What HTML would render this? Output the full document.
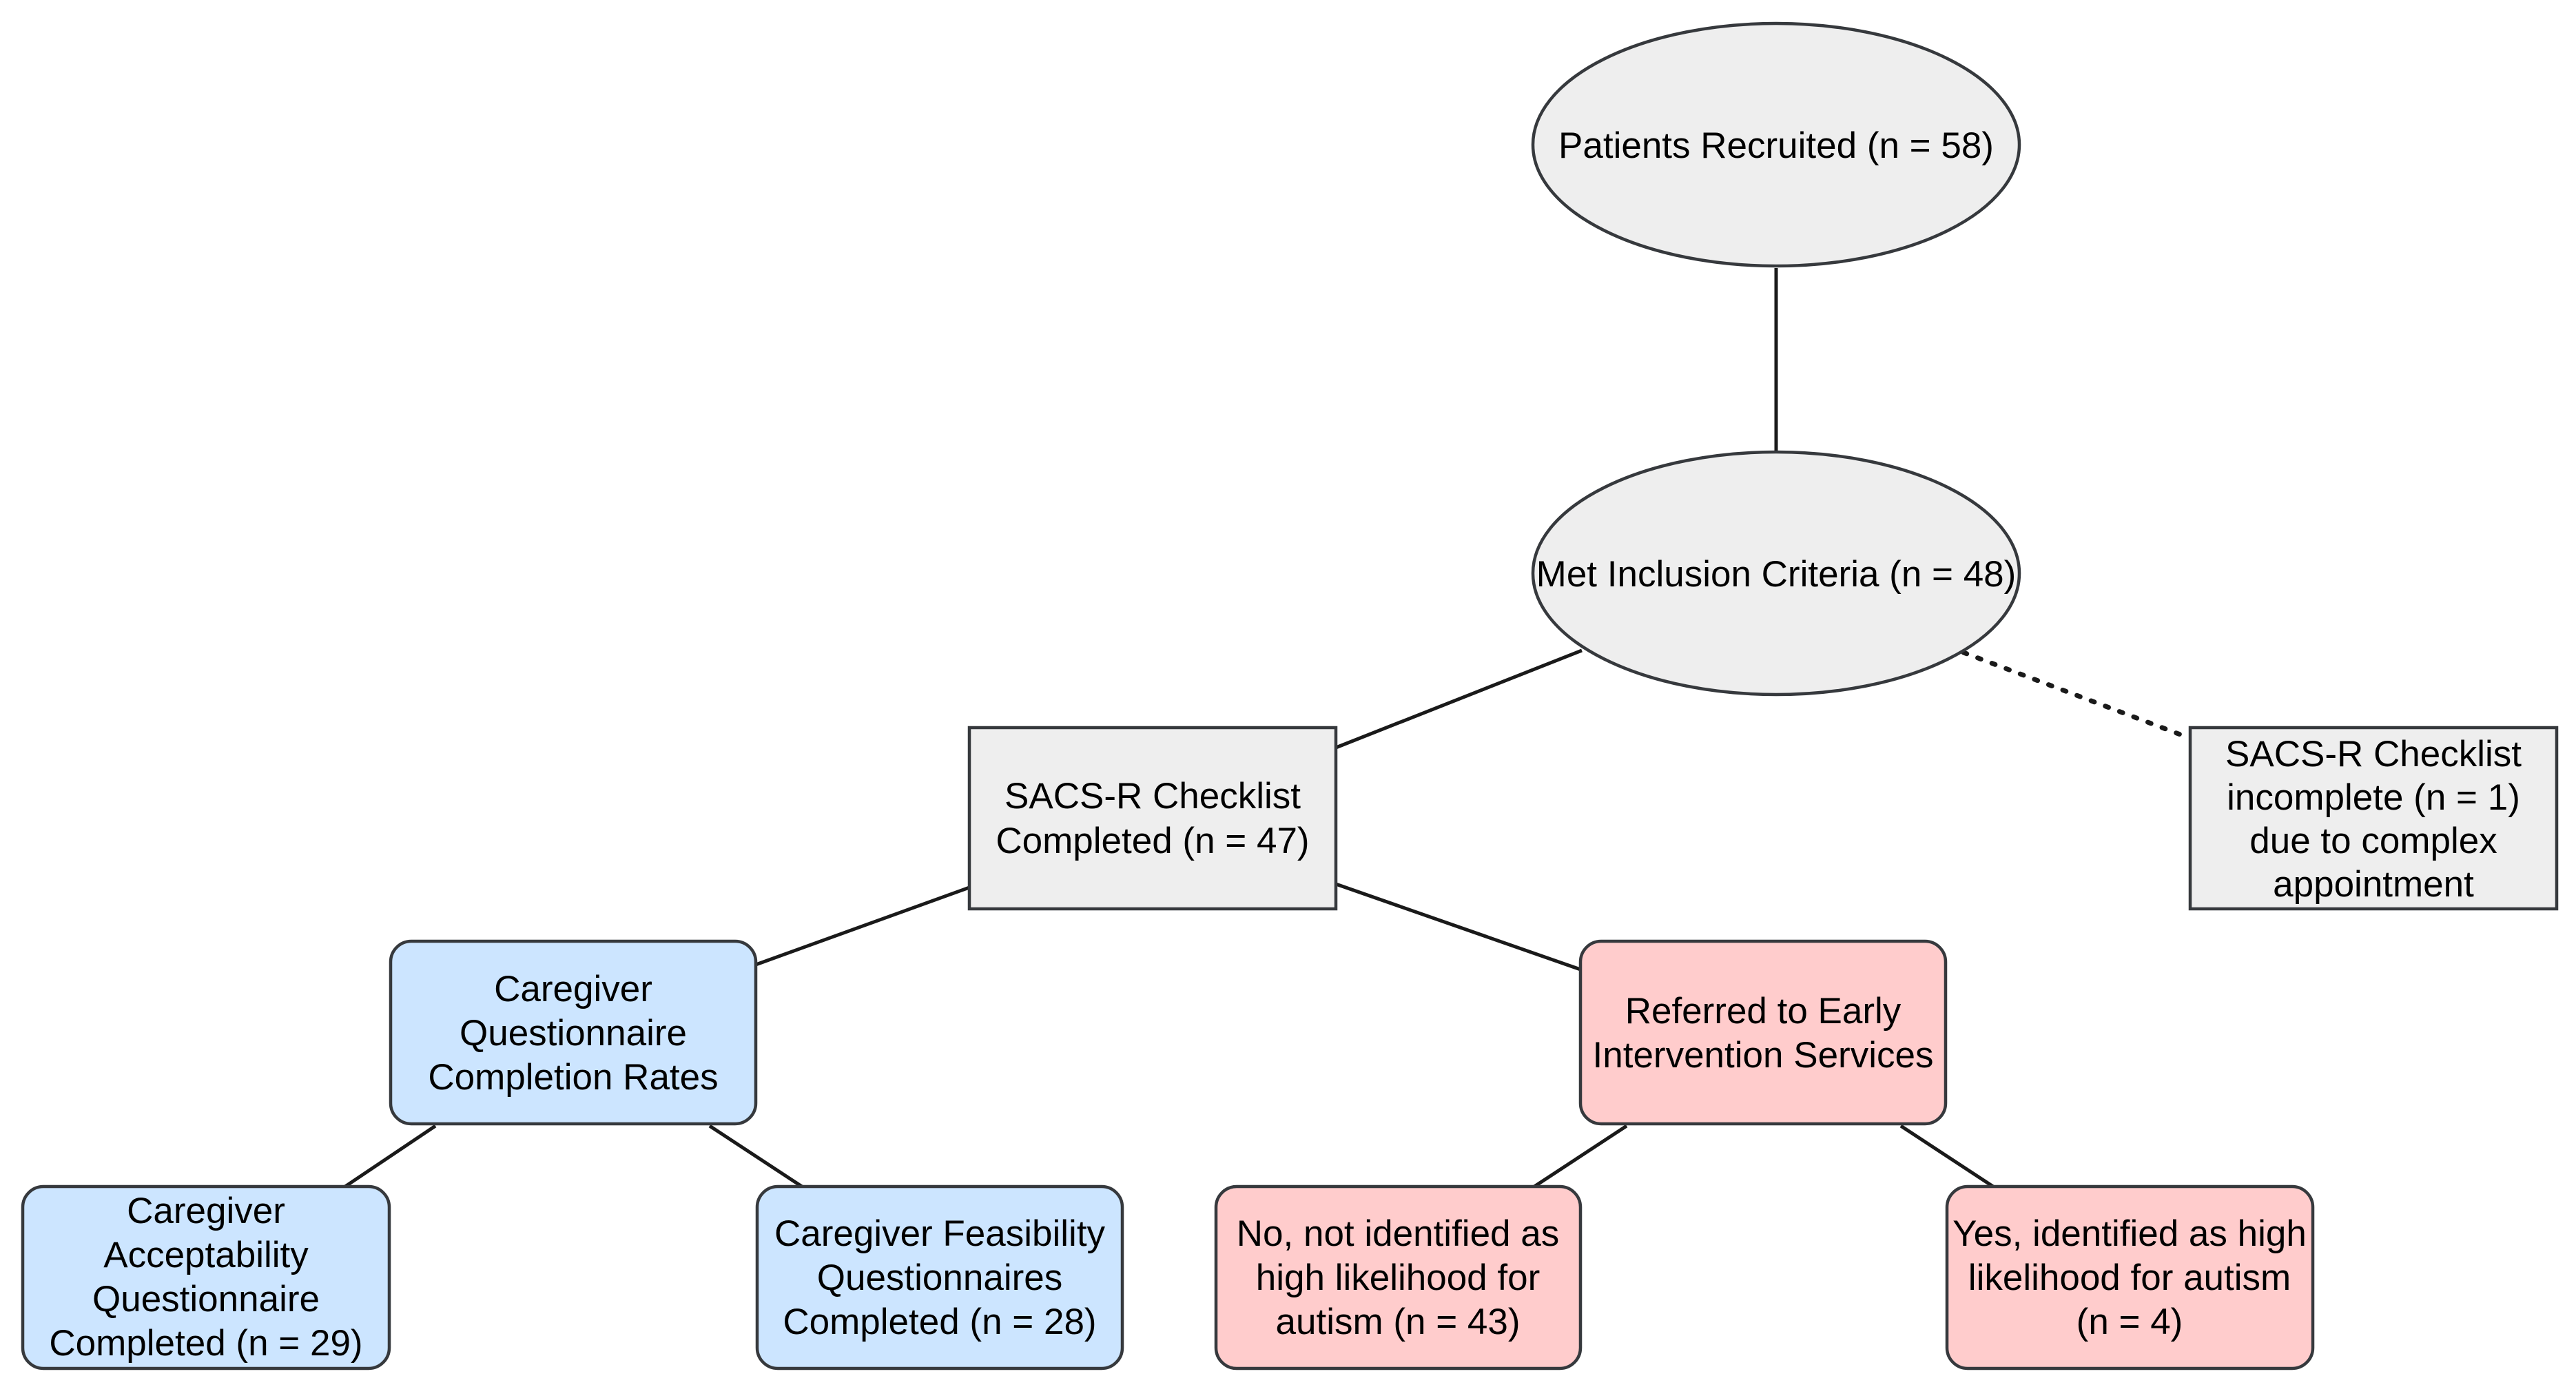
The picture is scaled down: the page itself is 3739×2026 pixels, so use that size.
<!DOCTYPE html>
<html><head><meta charset="utf-8"><style>
body{margin:0;background:#fff}
svg{display:block}
text{font-family:"Liberation Sans",Arial,sans-serif;font-size:53px;fill:#000;text-anchor:middle}
</style></head><body>
<svg width="3739" height="2026" viewBox="0 0 3739 2026" xmlns="http://www.w3.org/2000/svg">
<g stroke="#1a1a1a" stroke-width="5" fill="none">
<line x1="2578" y1="389" x2="2578" y2="656"/>
<line x1="2296" y1="944" x2="1939" y2="1085"/>
<line x1="2850" y1="947" x2="3170" y2="1068" stroke-dasharray="5,17" stroke-width="7" stroke-linecap="round"/>
<line x1="1407" y1="1288" x2="1097" y2="1400"/>
<line x1="1939" y1="1283" x2="2294" y2="1407"/>
<line x1="632" y1="1634" x2="501" y2="1722"/>
<line x1="1030" y1="1634" x2="1164" y2="1722"/>
<line x1="2361" y1="1634" x2="2227" y2="1722"/>
<line x1="2759" y1="1634" x2="2893" y2="1722"/>
</g>
<g stroke="#36393d" stroke-width="4.5">
<ellipse cx="2578" cy="210" rx="353" ry="176" fill="#eeeeee"/>
<ellipse cx="2578" cy="832" rx="353" ry="176" fill="#eeeeee"/>
<rect x="1407" y="1056" width="532" height="263" fill="#eeeeee"/>
<rect x="3179" y="1056" width="532" height="263" fill="#eeeeee"/>
<rect x="567" y="1366" width="530" height="265" rx="30" fill="#cce5ff"/>
<rect x="2294" y="1366" width="530" height="265" rx="30" fill="#ffcccc"/>
<rect x="33" y="1722" width="532" height="264" rx="30" fill="#cce5ff"/>
<rect x="1099" y="1722" width="530" height="264" rx="30" fill="#cce5ff"/>
<rect x="1765" y="1722" width="529" height="264" rx="30" fill="#ffcccc"/>
<rect x="2826" y="1722" width="531" height="264" rx="30" fill="#ffcccc"/>
</g>
<text x="2578" y="229">Patients Recruited (n = 58)</text>
<text x="2578" y="851">Met Inclusion Criteria (n = 48)</text>
<text x="1673" y="1173">SACS-R Checklist</text>
<text x="1673" y="1238">Completed (n = 47)</text>
<text x="3445" y="1112">SACS-R Checklist</text>
<text x="3445" y="1175">incomplete (n = 1)</text>
<text x="3445" y="1238">due to complex</text>
<text x="3445" y="1301">appointment</text>
<text x="832" y="1453">Caregiver</text>
<text x="832" y="1517">Questionnaire</text>
<text x="832" y="1581">Completion Rates</text>
<text x="2559" y="1485">Referred to Early</text>
<text x="2559" y="1549">Intervention Services</text>
<text x="299" y="1775">Caregiver</text>
<text x="299" y="1839">Acceptability</text>
<text x="299" y="1903">Questionnaire</text>
<text x="299" y="1967">Completed (n = 29)</text>
<text x="1364" y="1808">Caregiver Feasibility</text>
<text x="1364" y="1872">Questionnaires</text>
<text x="1364" y="1936">Completed (n = 28)</text>
<text x="2029" y="1808">No, not identified as</text>
<text x="2029" y="1872">high likelihood for</text>
<text x="2029" y="1936">autism (n = 43)</text>
<text x="3091" y="1808">Yes, identified as high</text>
<text x="3091" y="1872">likelihood for autism</text>
<text x="3091" y="1936">(n = 4)</text>
</svg>
</body></html>
